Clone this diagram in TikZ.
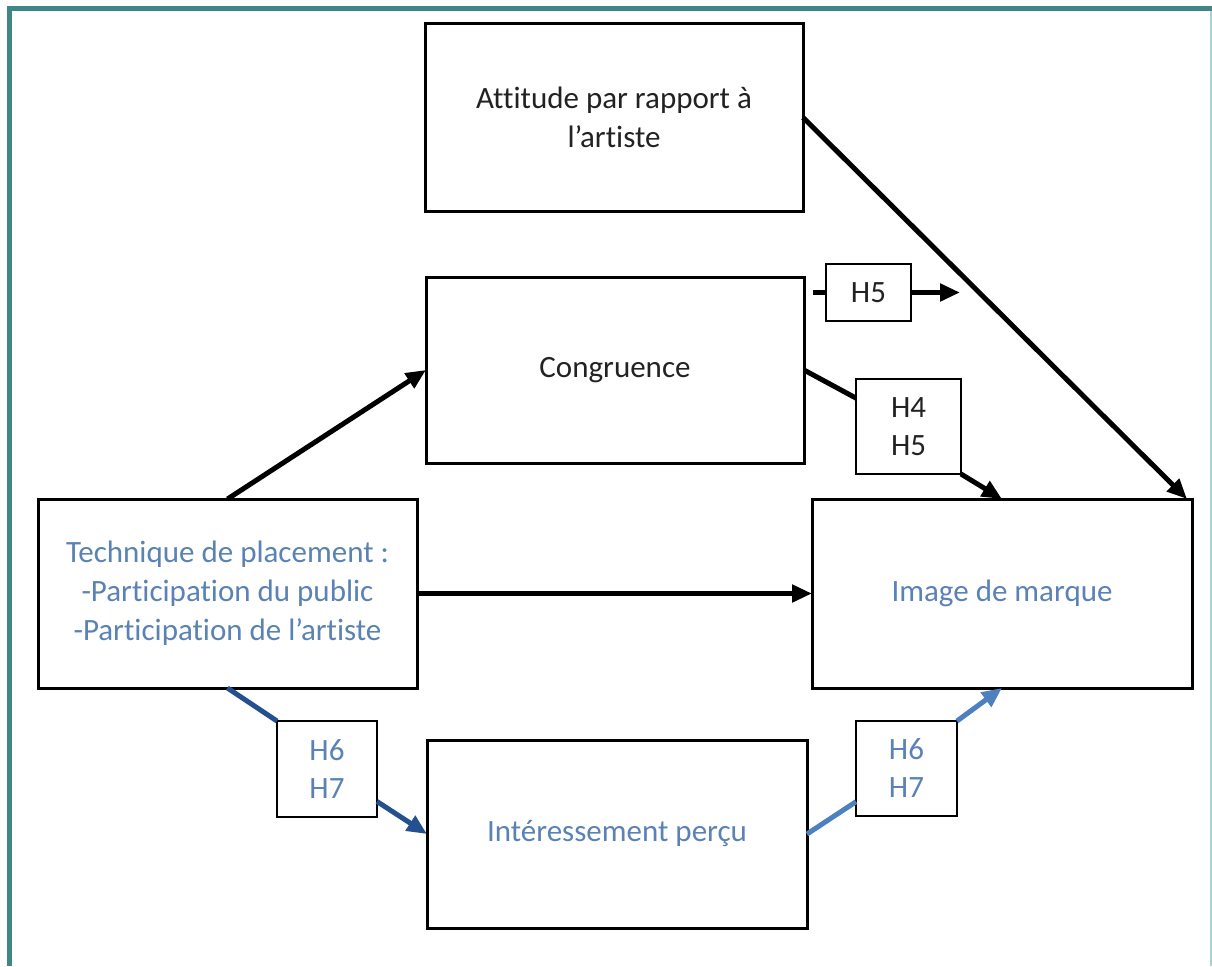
\documentclass[tikz,border=0pt]{standalone}
\usepackage{fontspec}
\setmainfont[Ligatures=NoCommon]{Carlito}
\usetikzlibrary{arrows.meta}
\definecolor{frameteal}{HTML}{3F8787}
\definecolor{frameedge}{HTML}{A9D3D3}
\definecolor{txtblue}{HTML}{5A82B5}
\definecolor{darkblue}{HTML}{24508F}
\definecolor{lightblue}{HTML}{4C80BE}
\definecolor{txtgray}{HTML}{222222}
\tikzset{
  box/.style={draw=black, line width=3pt, fill=white, anchor=north west,
    inner sep=0pt, outer sep=0pt, align=center, font=\fontsize{31}{39}\selectfont, text=txtgray},
  hbox/.style={draw=black, line width=2.6pt, fill=white, anchor=north west,
    inner sep=0pt, outer sep=0pt, align=center, font=\fontsize{31}{38}\selectfont, text=txtgray},
  bluetext/.style={text=txtblue},
  link/.style={line width=5pt, draw=black},
  tip/.style={-{Triangle[length=20pt,width=17pt]}},
}
\begin{document}
\begin{tikzpicture}[x=1pt,y=-1pt]
  \useasboundingbox (0,0) rectangle (1212,966);
  \fill[white] (0,0) rectangle (1212,966);
  % outer frame
  \draw[frameedge, line width=2pt] (1210.5,9) -- (1210.5,966);
  \draw[frameteal, line width=5pt] (9.5,966) -- (9.5,9) -- (1212,9);

  % main boxes
  \node[box, minimum width=378pt, minimum height=187pt] (att) at (425,24)
    {Attitude par rapport à\\l’artiste};
  \node[box, minimum width=378pt, minimum height=186pt] (cong) at (426,277)
    {Congruence};
  \node[box, bluetext, minimum width=379pt, minimum height=189pt] (tech) at (38,499)
    {Technique de placement :\\-Participation du public\\-Participation de l’artiste};
  \node[box, bluetext, minimum width=380pt, minimum height=189pt] (img) at (812,499)
    {Image de marque};
  \node[box, bluetext, minimum width=380pt, minimum height=188pt] (int) at (427,740)
    {Intéressement perçu};

  % hypothesis labels
  \node[hbox, minimum width=85pt, minimum height=57pt] (h5) at (826,264) {H5};
  \node[hbox, minimum width=105pt, minimum height=95pt] (h45) at (856,379) {H4\\H5};
  \node[hbox, bluetext, minimum width=100pt, minimum height=96pt] (h67a) at (277,721) {H6\\H7};
  \node[hbox, bluetext, minimum width=101pt, minimum height=95pt] (h67b) at (856,721) {H6\\H7};

  \coordinate (h5in) at ([xshift=-13pt]h5.west);
  \coordinate (h5out) at ([xshift=49pt]h5.east);

  % black links
  \draw[link, tip] (att.east) -- ([xshift=-5pt]img.north east);
  \draw[link, tip] (tech.north) -- (cong.west);
  \draw[link, tip] (tech.east) -- (img.west);
  \draw[link] (cong.east) -- (h45);
  \draw[link, tip] (h45.south east) -- (img.north);
  \draw[link] (h5in) -- (h5.west);
  \draw[link, tip] (h5.east) -- (h5out);

  % blue links
  \draw[link, draw=darkblue] (tech.south) -- (h67a.north west);
  \draw[link, draw=darkblue, tip] (h67a) -- (int.west);
  \draw[link, draw=lightblue] (int.east) -- (h67b);
  \draw[link, draw=lightblue, tip] (h67b.north east) -- (img.south);
\end{tikzpicture}
\end{document}
